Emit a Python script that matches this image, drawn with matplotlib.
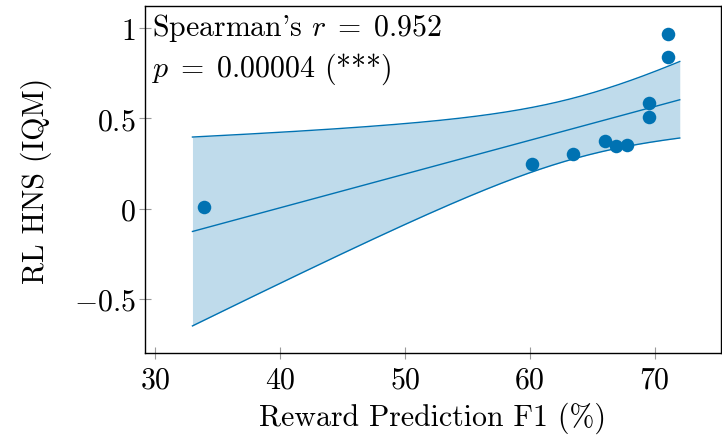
import numpy as np
import matplotlib
matplotlib.use("Agg")
import matplotlib.pyplot as plt

plt.rcParams["font.family"] = "serif"
plt.rcParams["font.serif"] = ["cmr10"]
plt.rcParams["mathtext.fontset"] = "cm"
plt.rcParams["axes.formatter.use_mathtext"] = True
plt.rcParams["axes.unicode_minus"] = True

# data
f1 = [33.96, 60.16, 63.45, 66.05, 66.92, 67.77, 69.55, 69.55, 71.04, 71.04]
hns = [0.01, 0.246, 0.30, 0.374, 0.346, 0.35, 0.587, 0.508, 0.966, 0.838]
fit_range = [33.0, 72.0]
xticks = [30, 40, 50, 60, 70]
yticks = [-0.5, 0, 0.5, 1]
ytick_labels = ["$-0.5$", "$0$", "$0.5$", "$1$"]
annot = "Spearman's $r\\;=\\;0.952$\n$p\\;=\\;0.00004$ (***)"

color = "#0072B2"
FS = 21.5

x = np.array(f1)
y = np.array(hns)
n = len(x)
slope, intercept = np.polyfit(x, y, 1)
resid = y - (slope * x + intercept)
s = np.sqrt(np.sum(resid ** 2) / (n - 2))
xbar = x.mean()
sxx = np.sum((x - xbar) ** 2)
t = 2.6  # band multiplier
xs = np.linspace(fit_range[0], fit_range[1], 200)
yfit = slope * xs + intercept
half = t * s * np.sqrt(1.0 / n + (xs - xbar) ** 2 / sxx)

fig = plt.figure(figsize=(7.22, 4.39), dpi=100)
ax = fig.add_axes([0.2008, 0.194, 0.7978, 0.790])

ax.fill_between(xs, yfit - half, yfit + half, color=color, alpha=0.25, lw=0)
ax.plot(xs, yfit + half, color=color, lw=1)
ax.plot(xs, yfit - half, color=color, lw=1)
ax.plot(xs, yfit, color=color, lw=1)
ax.scatter(x, y, s=95, color=color, zorder=3, linewidths=0)

ax.set_xlim(29.2, 75.3)
ax.set_ylim(-0.80, 1.123)
ax.set_xticks(xticks)
ax.set_yticks(yticks)
ax.set_yticklabels(ytick_labels)
ax.tick_params(direction="inout", length=9, width=0.8, color="#999999",
               labelsize=FS)
ax.tick_params(axis="x", pad=5)
ax.tick_params(axis="y", pad=2)
for sp in ax.spines.values():
    sp.set_linewidth(1.0)

ax.set_xlabel("Reward Prediction F1 (%)", fontsize=FS, labelpad=6)
ax.set_ylabel("RL HNS (IQM)", fontsize=FS, labelpad=16)
ax.text(0.013, 0.985, annot, transform=ax.transAxes, va="top", ha="left",
        fontsize=FS, linespacing=1.3)

fig.savefig("out.png", dpi=100)
